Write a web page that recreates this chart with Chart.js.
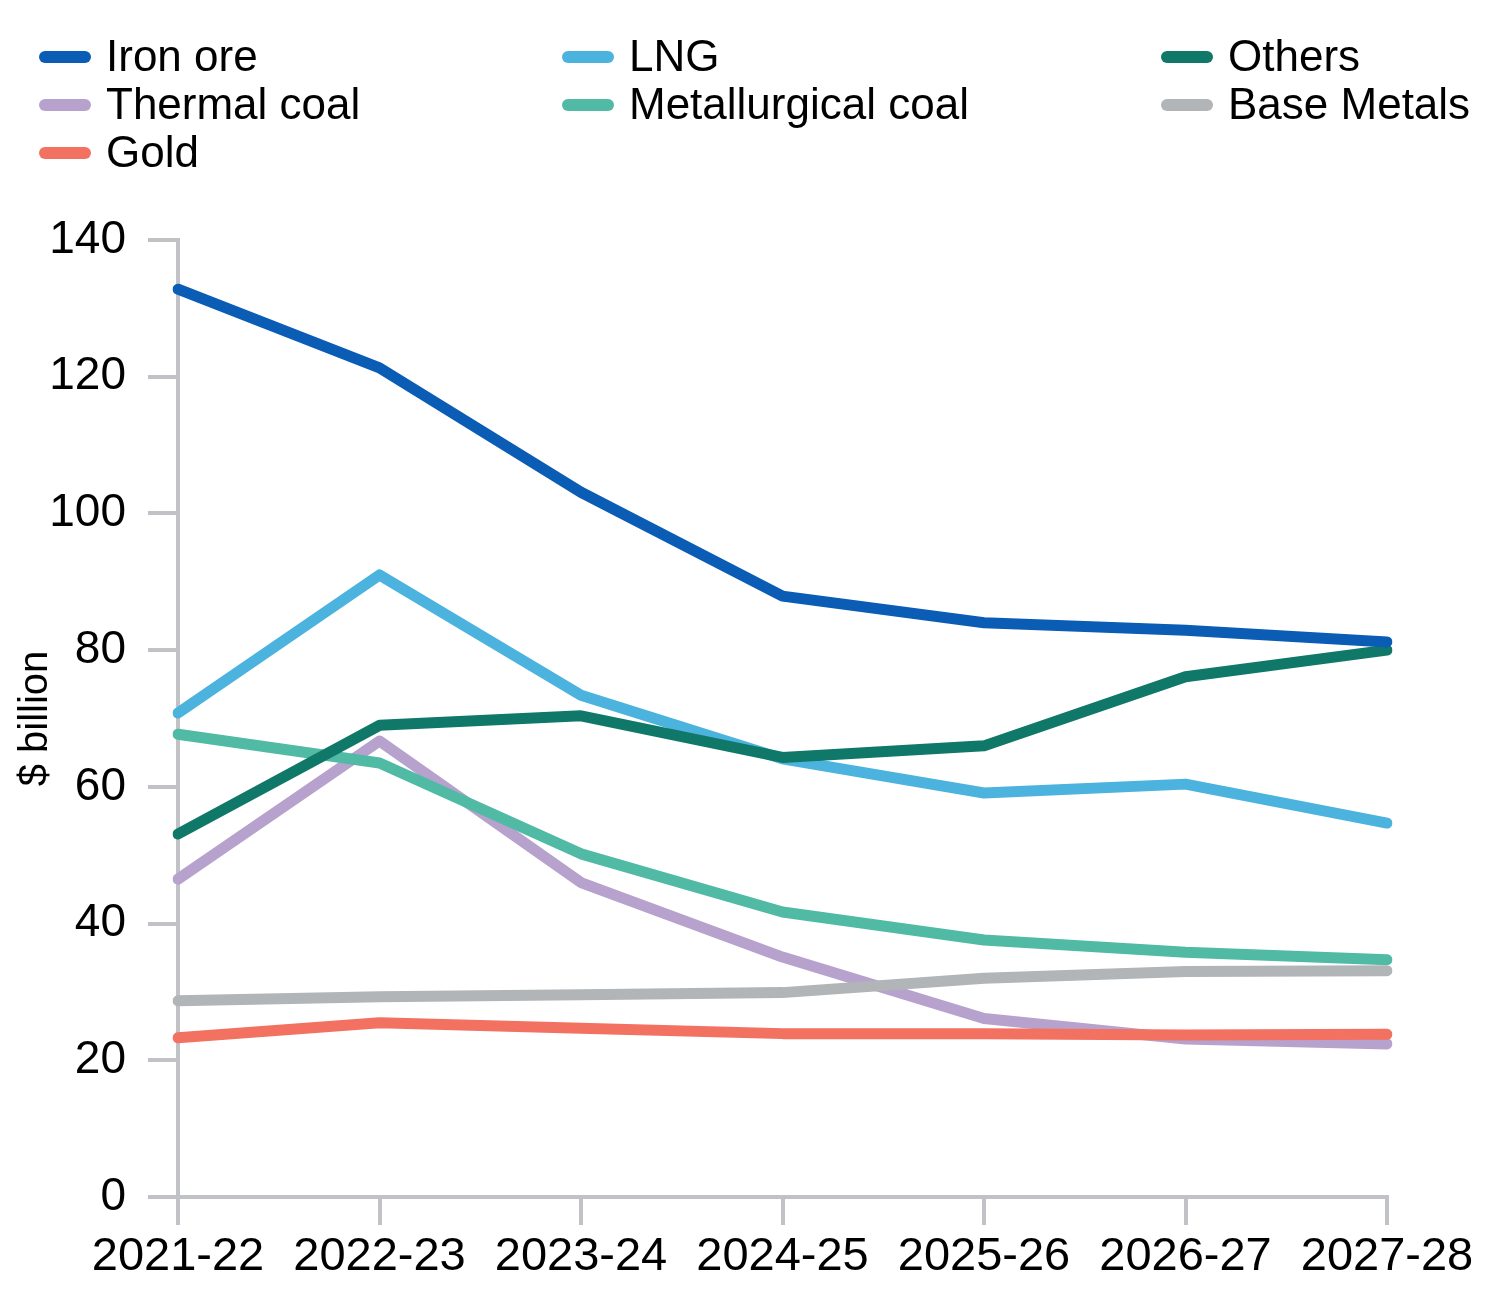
<!DOCTYPE html>
<html>
<head>
<meta charset="utf-8">
<script src="https://cdn.jsdelivr.net/npm/chart.js@4.4.1/dist/chart.umd.min.js"></script>
<style>
  html, body { margin: 0; padding: 0; background: #ffffff; }
  #wrap { width: 1500px; height: 1313px; }
</style>
</head>
<body>
<div id="wrap"><canvas id="c" width="1500" height="1313"></canvas></div>
<script>
const categories = ["2021-22", "2022-23", "2023-24", "2024-25", "2025-26", "2026-27", "2027-28"];

const ironOre      = [132.8, 121.3, 103.1, 87.9, 84.0, 82.9, 81.2];
const lng          = [70.8, 91.0, 73.4, 64.1, 59.1, 60.4, 54.7];
const others       = [53.1, 69.0, 70.4, 64.3, 66.0, 76.1, 80.0];
const thermalCoal  = [46.5, 66.7, 46.0, 35.1, 26.1, 23.1, 22.4];
const metCoal      = [67.7, 63.5, 50.2, 41.7, 37.6, 35.8, 34.7];
const baseMetals   = [28.7, 29.3, 29.6, 29.9, 32.0, 33.0, 33.1];
const gold         = [23.3, 25.5, 24.7, 23.9, 23.9, 23.7, 23.8];

const yTicks = [0, 20, 40, 60, 80, 100, 120, 140];
const yTitle = "$ billion";

const seriesNames = ["Iron ore", "LNG", "Others", "Thermal coal", "Metallurgical coal", "Base Metals", "Gold"];
const seriesColors = ["#0a5cb4", "#4cb3de", "#0f7868", "#b7a2cd", "#50baa4", "#b1b5b7", "#f27161"];
const seriesData = [ironOre, lng, others, thermalCoal, metCoal, baseMetals, gold];
const seriesOrder = [0, 2, 1, 6, 5, 4, 3];

const datasets = seriesNames.map((name, i) => ({
  label: name,
  data: seriesData[i],
  borderColor: seriesColors[i],
  backgroundColor: seriesColors[i],
  borderWidth: 11,
  pointRadius: 0,
  pointHoverRadius: 0,
  tension: 0,
  fill: false,
  borderCapStyle: 'round',
  borderJoinStyle: 'round',
  order: seriesOrder[i]
}));

const legendPlugin = {
  id: 'customLegend',
  afterDraw(chart) {
    const ctx = chart.ctx;
    const colX = [40, 563, 1162];
    const rowY = [57, 105, 153];
    ctx.save();
    ctx.font = '44px "Liberation Sans", Arial, sans-serif';
    ctx.textBaseline = 'middle';
    ctx.textAlign = 'left';
    chart.data.datasets.forEach((ds, i) => {
      const x = colX[i % 3];
      const y = rowY[Math.floor(i / 3)];
      ctx.strokeStyle = ds.borderColor;
      ctx.lineWidth = 12;
      ctx.lineCap = 'round';
      ctx.beginPath();
      ctx.moveTo(x + 5, y);
      ctx.lineTo(x + 45, y);
      ctx.stroke();
      ctx.fillStyle = '#000000';
      ctx.fillText(ds.label, x + 66, y + 2);
    });
    ctx.restore();
  }
};

const axisGrey = '#c0c2c5';

new Chart(document.getElementById('c'), {
  type: 'line',
  data: { labels: categories, datasets },
  options: {
    responsive: false,
    animation: false,
    devicePixelRatio: 1,
    layout: { padding: { top: 240, right: 113, bottom: 0, left: 0 } },
    plugins: {
      legend: { display: false },
      tooltip: { enabled: false }
    },
    scales: {
      x: {
        offset: false,
        grid: {
          display: true,
          drawOnChartArea: false,
          drawTicks: true,
          tickLength: 28,
          color: axisGrey,
          lineWidth: 4
        },
        border: { display: true, color: axisGrey, width: 4 },
        ticks: {
          color: '#000000',
          font: { family: '"Liberation Sans", Arial, sans-serif', size: 47 },
          padding: 4,
          maxRotation: 0,
          autoSkip: false
        },
        afterFit(scale) { scale.height = 116; }
      },
      y: {
        min: 0,
        max: 140,
        afterBuildTicks(scale) { scale.ticks = yTicks.map(v => ({ value: v })); },
        grid: {
          display: true,
          drawOnChartArea: false,
          drawTicks: true,
          tickLength: 30,
          color: axisGrey,
          lineWidth: 4
        },
        border: { display: true, color: axisGrey, width: 4 },
        ticks: {
          color: '#000000',
          font: { family: '"Liberation Sans", Arial, sans-serif', size: 46 },
          padding: 22
        },
        title: {
          display: true,
          text: yTitle,
          color: '#000000',
          font: { family: '"Liberation Sans", Arial, sans-serif', size: 40 },
          padding: { top: 12, bottom: 0 }
        },
        afterFit(scale) { scale.width = 178; }
      }
    }
  },
  plugins: [legendPlugin]
});
</script>
</body>
</html>
